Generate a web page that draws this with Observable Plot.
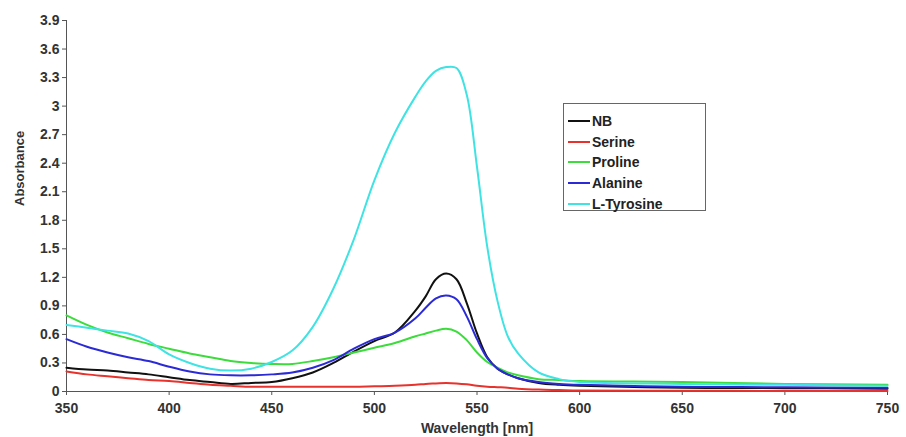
<!DOCTYPE html>
<html>
<head>
<meta charset="utf-8">
<script src="https://cdn.jsdelivr.net/npm/d3@7"></script>
<script src="https://cdn.jsdelivr.net/npm/@observablehq/plot@0.6"></script>
<style>
  body { margin: 0; background: #fff; font-family: "Liberation Sans", Arial, sans-serif; }
  #wrap { position: relative; width: 906px; height: 437px; }
  #legend { position: absolute; left: 563px; top: 103px; width: 143px; height: 108px;
    border: 1px solid #666; background: #fff; box-sizing: border-box; padding: 7px 0 0 4px; }
  .item { display: flex; align-items: center; height: 20.6px; font-weight: bold; font-size: 14px; color: #222; }
  .sw { width: 22px; height: 2px; margin-right: 2px; }
</style>
</head>
<body>
<div id="wrap"><div id="chart"></div><div id="legend"></div></div>
<script>
const wavelengths = [350,360,370,380,390,400,410,420,430,440,450,460,470,480,490,500,510,520,525,530,535,540,545,550,555,560,565,570,580,590,600,650,700,750];
const nb        = [0.25,0.23,0.22,0.20,0.18,0.15,0.12,0.10,0.08,0.09,0.10,0.14,0.20,0.30,0.42,0.53,0.62,0.85,1.00,1.18,1.24,1.18,0.93,0.61,0.36,0.24,0.18,0.14,0.09,0.07,0.06,0.04,0.035,0.03];
const serine    = [0.21,0.18,0.16,0.14,0.12,0.11,0.09,0.07,0.06,0.05,0.05,0.05,0.05,0.05,0.05,0.055,0.06,0.07,0.08,0.085,0.09,0.085,0.075,0.06,0.05,0.045,0.04,0.03,0.02,0.015,0.01,0.008,0.006,0.005];
const proline   = [0.80,0.70,0.62,0.56,0.50,0.45,0.40,0.36,0.32,0.30,0.29,0.29,0.32,0.36,0.41,0.46,0.51,0.58,0.61,0.64,0.66,0.63,0.54,0.41,0.31,0.25,0.20,0.17,0.13,0.12,0.11,0.10,0.08,0.07];
const alanine   = [0.55,0.47,0.41,0.36,0.32,0.26,0.21,0.18,0.17,0.17,0.18,0.20,0.25,0.33,0.45,0.55,0.62,0.77,0.88,0.98,1.01,0.97,0.79,0.55,0.35,0.24,0.18,0.14,0.10,0.08,0.07,0.05,0.045,0.04];
const tyrosine  = [0.70,0.67,0.64,0.61,0.53,0.39,0.30,0.24,0.22,0.24,0.31,0.43,0.68,1.08,1.60,2.22,2.72,3.10,3.26,3.37,3.41,3.40,3.12,2.36,1.52,0.95,0.58,0.40,0.20,0.13,0.10,0.08,0.07,0.06];

const seriesNames = ["NB","Serine","Proline","Alanine","L-Tyrosine"];
const seriesValues = [nb, serine, proline, alanine, tyrosine];
const seriesColors = ["#111111","#e8322c","#3ddc3d","#2b2bd6","#3fe3e3"];
const xTicks = [350,400,450,500,550,600,650,700,750];
const yTicks = [0,0.3,0.6,0.9,1.2,1.5,1.8,2.1,2.4,2.7,3,3.3,3.6,3.9];

const rows = [];
seriesNames.forEach((s, i) => wavelengths.forEach((w, j) => rows.push({series: s, w, a: seriesValues[i][j]})));

const fontCommon = {fontWeight: "bold", fontSize: 14};
const chart = Plot.plot({
  width: 906, height: 437,
  marginLeft: 66, marginRight: 19, marginTop: 20, marginBottom: 46,
  style: {fontFamily: "Liberation Sans, Arial, sans-serif", color: "#333", background: "#fff"},
  x: {domain: [350, 750]},
  y: {domain: [0, 3.9]},
  color: {domain: seriesNames, range: seriesColors},
  marks: [
    Plot.axisX({ticks: xTicks, tickSize: 4, tickPadding: 8, label: null, ...fontCommon, fill: "#333", stroke: "#555"}),
    Plot.axisY({ticks: yTicks, tickSize: 4, tickPadding: 3, label: null, tickFormat: d => String(+d.toFixed(1)), ...fontCommon, fill: "#333", stroke: "#555"}),
    Plot.ruleX([350], {stroke: "#555"}),
    Plot.ruleY([0], {stroke: "#555"}),
    Plot.line(rows, {x: "w", y: "a", z: "series", stroke: "series", strokeWidth: 2, curve: "catmull-rom"}),
    Plot.text(["Absorbance"], {frameAnchor: "left", rotate: -90, dx: -47, fontWeight: "bold", fontSize: 13, fill: "#333"}),
    Plot.text(["Wavelength [nm]"], {frameAnchor: "bottom", dy: 41, fontWeight: "bold", fontSize: 14, fill: "#333"})
  ]
});
document.getElementById("chart").appendChild(chart);

const legend = document.getElementById("legend");
seriesNames.forEach((s, i) => {
  const d = document.createElement("div");
  d.className = "item";
  d.innerHTML = `<span class="sw" style="background:${seriesColors[i]}"></span>${s}`;
  legend.appendChild(d);
});
</script>
</body>
</html>
